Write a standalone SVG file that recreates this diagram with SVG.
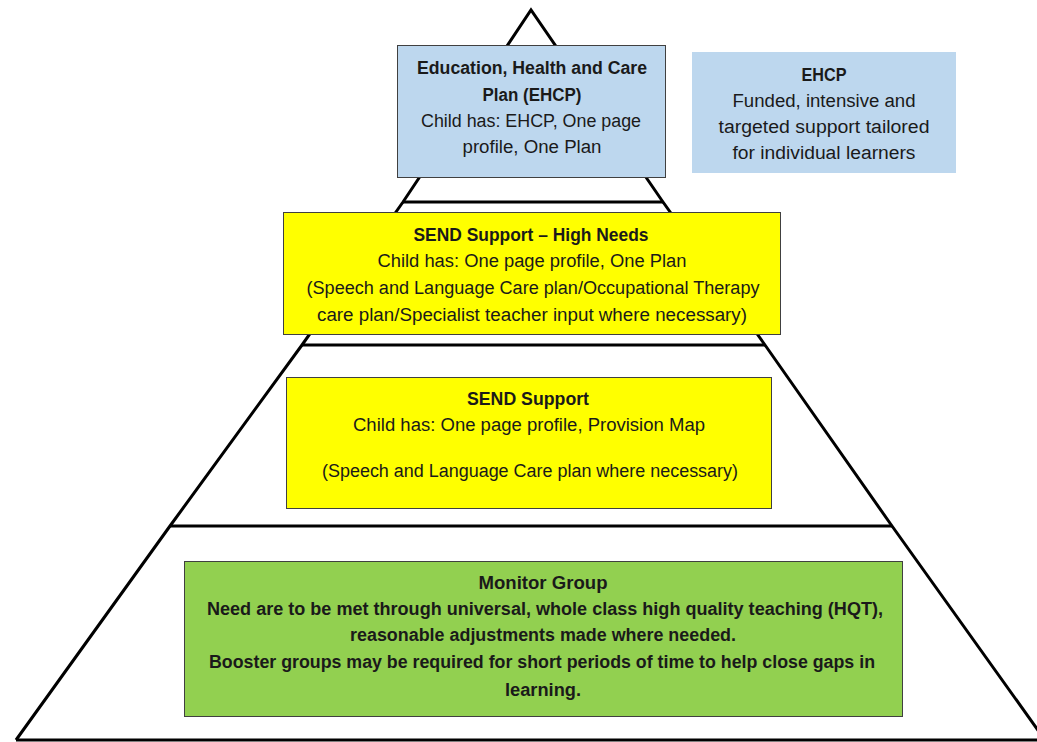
<svg xmlns="http://www.w3.org/2000/svg" width="1037" height="742" viewBox="0 0 1037 742">
<style>
.pyr{fill:none;stroke:#000;stroke-width:3;stroke-linejoin:miter}
.blue{fill:#BDD7EE;stroke:#404040;stroke-width:1}
.blue2{fill:#BDD7EE;stroke:none}
.yel{fill:#FFFF00;stroke:#404040;stroke-width:1}
.grn{fill:#92D050;stroke:#404040;stroke-width:1}
text{font-family:"Liberation Sans",Arial,sans-serif;font-size:18px;fill:#1a1a1a;text-anchor:middle}
.b{font-weight:bold}
</style>
<rect width="1037" height="742" fill="#fff"/>
<g id="connectors">
<polyline class="pyr" points="16,740 170,526 302,345 403,202 531,10 663,202 765,345 892,526 1045,740"/>
<line class="pyr" x1="16" y1="740" x2="1037" y2="740"/>
<line class="pyr" x1="170" y1="526" x2="892" y2="526"/>
<line class="pyr" x1="302" y1="345" x2="765" y2="345"/>
<line class="pyr" x1="403" y1="202" x2="663" y2="202"/>
</g>
<g id="ehcp-plan">
<rect class="blue" x="397.5" y="45.5" width="268" height="132"/>
<text class="b" x="532" y="74" textLength="230" lengthAdjust="spacingAndGlyphs">Education, Health and Care</text>
<text class="b" x="532" y="101" textLength="99" lengthAdjust="spacingAndGlyphs">Plan (EHCP)</text>
<text x="531" y="127" textLength="220" lengthAdjust="spacingAndGlyphs">Child has: EHCP, One page</text>
<text x="532" y="153" textLength="139" lengthAdjust="spacingAndGlyphs">profile, One Plan</text>
</g>
<g id="ehcp-note">
<rect class="blue2" x="692" y="52" width="264" height="121"/>
<text class="b" x="824" y="81" textLength="45" lengthAdjust="spacingAndGlyphs">EHCP</text>
<text x="824" y="107" textLength="183" lengthAdjust="spacingAndGlyphs">Funded, intensive and</text>
<text x="824" y="133" textLength="211" lengthAdjust="spacingAndGlyphs">targeted support tailored</text>
<text x="824" y="159" textLength="183" lengthAdjust="spacingAndGlyphs">for individual learners</text>
</g>
<g id="send-high">
<rect class="yel" x="283.5" y="212.5" width="497" height="122"/>
<text class="b" x="531" y="241" textLength="235" lengthAdjust="spacingAndGlyphs">SEND Support – High Needs</text>
<text x="532" y="267" textLength="309" lengthAdjust="spacingAndGlyphs">Child has: One page profile, One Plan</text>
<text x="533" y="294" textLength="453" lengthAdjust="spacingAndGlyphs">(Speech and Language Care plan/Occupational Therapy</text>
<text x="532" y="321" textLength="430" lengthAdjust="spacingAndGlyphs">care plan/Specialist teacher input where necessary)</text>
</g>
<g id="send-support">
<rect class="yel" x="286.5" y="377.5" width="485" height="131"/>
<text class="b" x="528" y="405" textLength="122" lengthAdjust="spacingAndGlyphs">SEND Support</text>
<text x="529" y="431" textLength="352" lengthAdjust="spacingAndGlyphs">Child has: One page profile, Provision Map</text>
<text x="530" y="477" textLength="416" lengthAdjust="spacingAndGlyphs">(Speech and Language Care plan where necessary)</text>
</g>
<g id="monitor">
<rect class="grn" x="184.5" y="561.5" width="718" height="155"/>
<text class="b" x="543" y="589" textLength="129" lengthAdjust="spacingAndGlyphs">Monitor Group</text>
<text class="b" x="545" y="615" textLength="676" lengthAdjust="spacingAndGlyphs">Need are to be met through universal, whole class high quality teaching (HQT),</text>
<text class="b" x="543" y="641" textLength="386" lengthAdjust="spacingAndGlyphs">reasonable adjustments made where needed.</text>
<text class="b" x="542" y="668" textLength="666" lengthAdjust="spacingAndGlyphs">Booster groups may be required for short periods of time to help close gaps in</text>
<text class="b" x="543" y="696" textLength="76" lengthAdjust="spacingAndGlyphs">learning.</text>
</g>
</svg>
